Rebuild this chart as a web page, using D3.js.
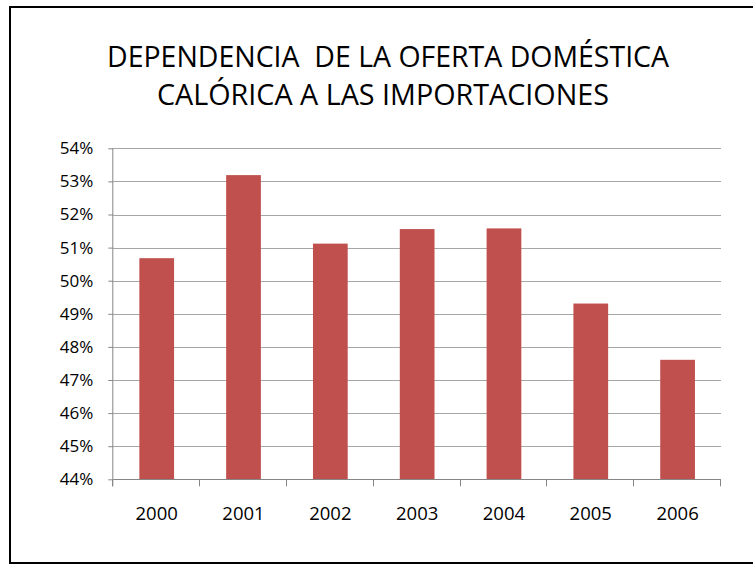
<!DOCTYPE html>
<meta charset="utf-8">
<style>
body { margin: 0; background: white; }
text { font-family: "Open Sans", sans-serif; fill: #000; }
.grid line { stroke: #A6A6A6; stroke-width: 1; }
.bar { fill: #C0504D; }
</style>
<svg id="chart" width="753" height="565"></svg>
<script src="https://cdn.jsdelivr.net/npm/d3@7"></script>
<script>

const years = ["2000", "2001", "2002", "2003", "2004", "2005", "2006"]
const values = [0.5068, 0.5319, 0.5112, 0.5156, 0.5158, 0.4931, 0.4761]
const yTicks = [0.44, 0.45, 0.46, 0.47, 0.48, 0.49, 0.50, 0.51, 0.52, 0.53, 0.54]
const titleLines = ["DEPENDENCIA  DE LA OFERTA DOMÉSTICA", "CALÓRICA A LAS IMPORTACIONES"]

const plot = {left: 113.3, right: 721, top: 148.3, bottom: 479.3}

const svg = d3.select("#chart")

// outer frame (right edge falls outside the picture)
svg.append("rect")
    .attr("x", 10)
    .attr("y", 7)
    .attr("width", 760)
    .attr("height", 556)
    .attr("fill", "none")
    .attr("stroke", "#000")
    .attr("stroke-width", 2)

// title
svg.selectAll(".title")
  .data(titleLines)
  .enter().append("text")
    .attr("class", "title")
    .attr("x", (d, i) => i === 0 ? 388 : 383)
    .attr("y", (d, i) => 67 + i * 38)
    .attr("text-anchor", "middle")
    .attr("font-size", 29)
    .attr("textLength", (d, i) => i === 0 ? 562 : 452)
    .attr("lengthAdjust", "spacingAndGlyphs")
    .style("white-space", "pre")
    .text(d => d)

const x = d3.scaleBand()
  .domain(years)
  .range([plot.left, plot.right])
  .paddingInner(0.6)
  .paddingOuter(0.3)

const y = d3.scaleLinear()
  .domain([0.44, 0.54])
  .range([plot.bottom, plot.top])

// horizontal gridlines
svg.append("g")
    .attr("class", "grid")
  .selectAll("line")
  .data(yTicks.slice(1))
  .enter().append("line")
    .attr("x1", plot.left)
    .attr("x2", plot.right)
    .attr("y1", d => Math.round(y(d)) + 0.5)
    .attr("y2", d => Math.round(y(d)) + 0.5)

// bars
svg.selectAll(".bar")
  .data(values)
  .enter().append("rect")
    .attr("class", "bar")
    .attr("x", (d, i) => x(years[i]))
    .attr("width", x.bandwidth())
    .attr("y", d => y(d))
    .attr("height", d => y(0.44) - y(d))

// y axis
const yAxis = d3.axisLeft(y)
  .tickValues(yTicks)
  .tickFormat(d3.format(".0%"))
  .tickSize(5)
  .tickPadding(15)

svg.append("g")
    .attr("transform", `translate(${plot.left}, 0)`)
    .call(yAxis)
    .call(g => g.select(".domain").attr("stroke", "#868686").attr("d", `M-0.5,${plot.top}V${plot.bottom + 7}`))
    .call(g => g.selectAll(".tick line").attr("stroke", "#868686"))
    .call(g => g.selectAll(".tick text")
      .attr("font-size", 17)
      .attr("font-family", "Open Sans, sans-serif")
      .attr("fill", "#000"))

// x axis: tick marks at category boundaries
const step = x.step()
const bounds = d3.range(years.length + 1).map(i => plot.left + i * step)

const xAxisG = svg.append("g")

xAxisG.append("line")
    .attr("x1", plot.left)
    .attr("x2", plot.right)
    .attr("y1", Math.round(plot.bottom) + 0.5)
    .attr("y2", Math.round(plot.bottom) + 0.5)
    .attr("stroke", "#868686")

xAxisG.selectAll(".xtick")
  .data(bounds)
  .enter().append("line")
    .attr("x1", d => Math.round(d) - 0.5)
    .attr("x2", d => Math.round(d) - 0.5)
    .attr("y1", plot.bottom)
    .attr("y2", plot.bottom + 7)
    .attr("stroke", "#868686")

xAxisG.selectAll(".xlabel")
  .data(years)
  .enter().append("text")
    .attr("x", d => x(d) + x.bandwidth() / 2)
    .attr("y", 520)
    .attr("text-anchor", "middle")
    .attr("font-size", 18.5)
    .text(d => d)

</script>
